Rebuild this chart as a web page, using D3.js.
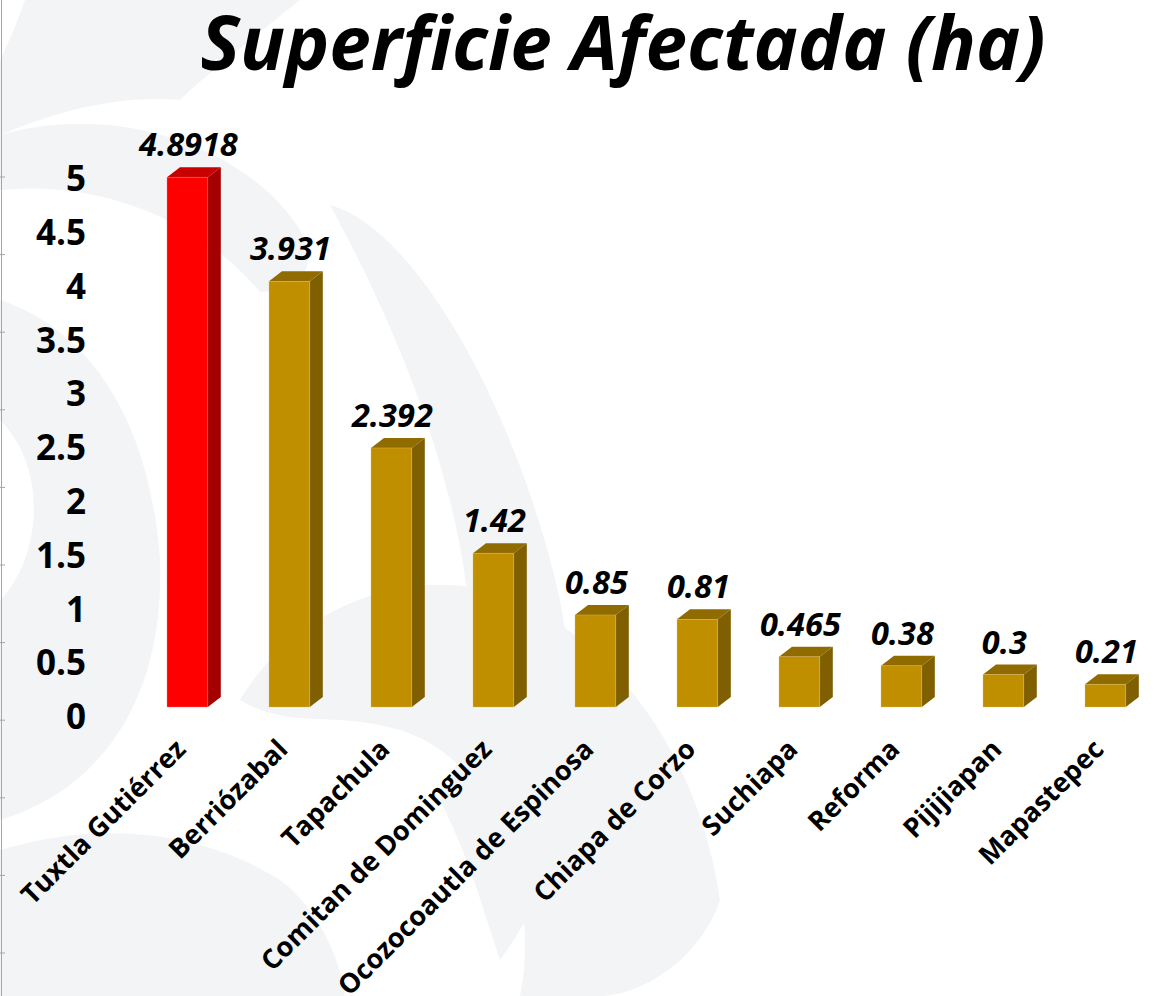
<!DOCTYPE html>
<html><head><meta charset="utf-8">
<script src="https://cdn.jsdelivr.net/npm/d3@7"></script>
<style>
html,body{margin:0;padding:0;background:#fff;}
svg{display:block;font-family:"Open Sans",sans-serif;}
</style></head>
<body>
<svg id="c" width="1160" height="996"></svg>
<script>
const categories = ["Tuxtla Gutiérrez","Berriózabal","Tapachula","Comitan de Dominguez","Ocozocoautla de Espinosa","Chiapa de Corzo","Suchiapa","Reforma","Pijijiapan","Mapastepec"];
const values = [4.8918, 3.931, 2.392, 1.42, 0.85, 0.81, 0.465, 0.38, 0.3, 0.21];
const valueLabels = ["4.8918","3.931","2.392","1.42","0.85","0.81","0.465","0.38","0.3","0.21"];
const tickValues = [0,0.5,1,1.5,2,2.5,3,3.5,4,4.5,5];
const tickLabels = ["0","0.5","1","1.5","2","2.5","3","3.5","4","4.5","5"];
const highlight = ["Tuxtla Gutiérrez"];
const title = "Superficie Afectada (ha)";

const svg = d3.select("#c");

// background watermark (decorative)
const bg = svg.append("g").attr("fill","#F3F4F6");
bg.append("path").attr("d","M25,0 L300,0 C250,40 200,80 180,100 C120,95 60,110 0,135 L0,60 C10,40 18,20 25,0 Z");
bg.append("path").attr("d","M0,135 C120,100 250,150 300,230 C320,270 300,290 260,292 C200,220 100,180 0,190 Z");
bg.append("path").attr("d","M0,300 C90,330 150,420 160,560 C165,700 100,790 0,820 L0,600 C40,560 50,470 0,420 Z");
bg.append("path").attr("d","M330,205 C420,230 520,420 560,600 C590,760 560,880 500,960 C480,900 470,860 440,800 C500,700 480,480 330,205 Z");
bg.append("path").attr("d","M240,700 C300,600 420,560 520,600 C620,650 700,760 720,900 C700,960 640,996 600,996 L520,996 C540,900 500,760 400,730 C330,710 290,730 240,700 Z");
bg.append("path").attr("d","M0,850 C100,820 200,830 280,880 C320,910 340,960 345,996 L0,996 Z");

// left ruler line
svg.append("line").attr("x1",1.5).attr("x2",1.5).attr("y1",0).attr("y2",996).attr("stroke","#A6A6A6").attr("stroke-width",1);
svg.append("g").selectAll("line").data(d3.range(177, 996, 77.6)).join("line")
  .attr("x1",0).attr("x2",5).attr("y1",d=>d).attr("y2",d=>d).attr("stroke","#A6A6A6");

// scales
const x = d3.scaleBand().domain(categories).range([136.4, 1156.4]).paddingInner(0.6).paddingOuter(0.3);
const y = d3.scaleLinear().domain([0,5]).range([707, 165.5]);
const yLab = d3.scaleLinear().domain([0,5]).range([716, 178]);
const bw = x.bandwidth();
const dx = 13, dy = 10;

// title
svg.append("text").attr("x",623).attr("y",70).attr("text-anchor","middle")
  .attr("font-size",74.5).attr("font-weight","bold").attr("font-style","italic").attr("fill","#000")
  .text(title);

// y axis labels
const yAxis = d3.axisLeft(yLab).tickValues(tickValues).tickSize(0).tickPadding(0)
  .tickFormat((d,i)=>tickLabels[i]);
const ga = svg.append("g").attr("transform","translate(86,0)").call(yAxis);
ga.select(".domain").remove();
ga.selectAll("text").attr("font-size",35).attr("font-weight","bold").attr("fill","#000")
  .attr("font-family","'Open Sans',sans-serif").attr("dy","0.36em");

// bars
const data = categories.map((c,i)=>({c, v:values[i], lab:valueLabels[i], hi: highlight.includes(c)}));
const col = d => d.hi ? {front:"#FF0000", side:"#A50000", top:"#C80000", edge:"#FF8080"} : {front:"#BF8F00", side:"#7F5F00", top:"#8F6B00", edge:"#E0C070"};
const bars = svg.append("g").selectAll("g").data(data).join("g");
bars.append("path").attr("fill",d=>col(d).side).attr("d",d=>{
  const x0=x(d.c)+bw, yt=y(d.v), yb=y(0);
  return `M${x0},${yt} L${x0+dx},${yt-dy} L${x0+dx},${yb-dy} L${x0},${yb} Z`;
});
bars.append("path").attr("fill",d=>col(d).top).attr("d",d=>{
  const x0=x(d.c), yt=y(d.v);
  return `M${x0},${yt} L${x0+dx},${yt-dy} L${x0+bw+dx},${yt-dy} L${x0+bw},${yt} Z`;
});
bars.append("rect").attr("x",d=>x(d.c)).attr("y",d=>y(d.v)).attr("width",bw).attr("height",d=>y(0)-y(d.v))
  .attr("fill",d=>col(d).front).attr("stroke",d=>col(d).edge).attr("stroke-width",0.6).attr("stroke-opacity",0.6);

// value labels
svg.append("g").selectAll("text").data(data).join("text")
  .attr("x",d=>x(d.c)+bw/2+1).attr("y",d=>y(d.v)-21).attr("text-anchor","middle")
  .attr("font-size",32.5).attr("font-weight","bold").attr("font-style","italic").attr("fill","#000")
  .text(d=>d.lab);

// category labels
svg.append("g").selectAll("text").data(data).join("text")
  .attr("transform",d=>`translate(${x(d.c)+bw/2},${751}) rotate(-45)`)
  .attr("text-anchor","end").attr("font-size",27).attr("font-weight","bold").attr("fill","#000")
  .text(d=>d.c);
</script>
</body></html>
